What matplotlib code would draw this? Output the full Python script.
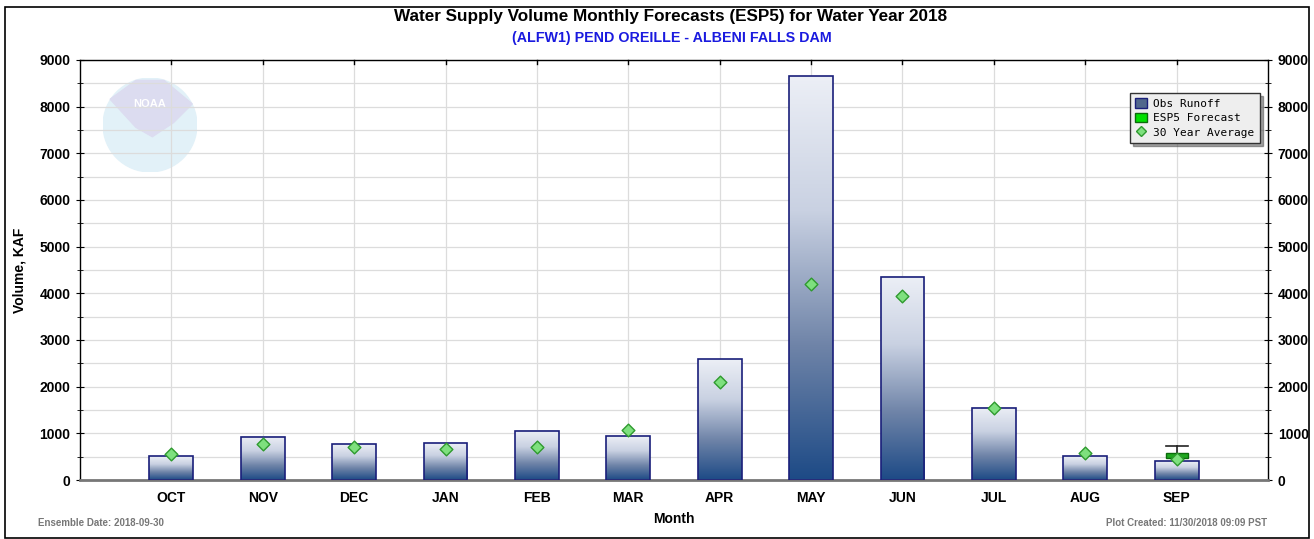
import numpy as np
import matplotlib.pyplot as plt
from matplotlib.colors import LinearSegmentedColormap
from matplotlib.patches import Patch, Rectangle, Circle, Polygon
from matplotlib.lines import Line2D

plt.rcParams["font.family"] = ["Liberation Sans", "DejaVu Sans"]

# data (KAF)
months = ["OCT", "NOV", "DEC", "JAN", "FEB", "MAR",
          "APR", "MAY", "JUN", "JUL", "AUG", "SEP"]
obs_runoff = [510, 930, 770, 790, 1050, 940, 2590, 8650, 4360, 1550, 510, 400]
avg_30yr = [560, 770, 700, 670, 700, 1070, 2100, 4200, 3940, 1550, 580, 450]

# ESP5 forecast for the last month (box + whisker)
esp_month = "SEP"
esp_low = 480
esp_high = 580
esp_whisker_top = 720

title = "Water Supply Volume Monthly Forecasts (ESP5) for Water Year 2018"
subtitle = "(ALFW1) PEND OREILLE - ALBENI FALLS DAM"


def draw_logo(fig):
    """Faint NOAA style logo in the upper left corner."""
    lax = fig.add_axes([150 / 1314 - 0.036, 1 - 125 / 539 - 0.087, 0.072, 0.174])
    lax.set_xlim(-1, 1)
    lax.set_ylim(-1, 1)
    lax.set_aspect("equal")
    lax.axis("off")
    lax.add_patch(Circle((0, 0), 1, color="#e2f1f8", zorder=1))
    lax.add_patch(Polygon([[-0.85, 0.55], [-0.3, 0.95], [0.3, 0.95], [0.9, 0.45],
                           [0.5, 0.05], [0.05, -0.25], [-0.3, -0.05]],
                          closed=True, color="#dcdcf0", zorder=2))
    lax.text(0, 0.45, "NOAA", ha="center", va="center", color="white",
             fontsize=8, fontweight="bold", zorder=3)


def main():
    fig = plt.figure(figsize=(13.14, 5.39), dpi=100)
    fig.patch.set_facecolor("white")

    # outer frame
    fig.add_artist(Rectangle((5 / 1314, 0.002), 1 - 10 / 1314, 1 - 8 / 539,
                             transform=fig.transFigure, fill=False,
                             edgecolor="black", linewidth=1.2))

    draw_logo(fig)

    ax = fig.add_axes([80 / 1314, 1 - 480 / 539, (1268 - 80) / 1314, 420 / 539])
    ax.patch.set_alpha(0)
    x = np.arange(len(months))
    width = 0.48

    # gradient fill for the bars
    cmap = LinearSegmentedColormap.from_list(
        "bar", ["#1d4a86", "#6f84a8", "#c9d1e2", "#eceff6"])
    grad = np.linspace(0, 1, 256).reshape(-1, 1)
    for xi, h in zip(x, obs_runoff):
        ax.imshow(grad, cmap=cmap, origin="lower", aspect="auto",
                  extent=[xi - width / 2, xi + width / 2, 0, h], zorder=2)
    ax.bar(x, obs_runoff, width=width, facecolor="none",
           edgecolor="#1a1f7a", linewidth=1.2, zorder=3)

    # ESP5 forecast box
    ei = months.index(esp_month)
    ax.plot([ei - 0.12, ei + 0.12], [esp_whisker_top] * 2, color="#222222",
            linewidth=1.2, zorder=4)
    ax.plot([ei, ei], [esp_high, esp_whisker_top], color="#222222",
            linewidth=1.2, zorder=4)
    ax.add_patch(Rectangle((ei - 0.12, esp_low), 0.24, esp_high - esp_low,
                           facecolor="#1ea81e", edgecolor="#0b6b0b",
                           linewidth=1, zorder=4))

    # 30 year average markers
    ax.scatter(x, avg_30yr, marker="D", s=42, color="#7ee07e",
               edgecolor="#2e9a2e", linewidth=1, zorder=5)

    ax.set_xlim(-1, 12)
    ax.set_ylim(0, 9000)
    ax.set_xticks(x)
    ax.set_xticklabels(months, fontweight="bold", fontsize=10)
    ax.set_yticks(np.arange(0, 9001, 1000))
    ax.set_yticks(np.arange(500, 9000, 1000), minor=True)
    ax.tick_params(axis="y", which="both", labelsize=10, direction="inout",
                   length=6, right=True, labelright=True, pad=4)
    ax.tick_params(axis="y", which="minor", length=4)
    ax.tick_params(axis="x", length=0, pad=8)
    for lab in ax.get_yticklabels():
        lab.set_fontweight("bold")

    ax.grid(True, which="both", color="#dcdcdc", linewidth=0.9, zorder=0)
    ax.set_axisbelow(True)
    # month ticks along the top edge
    for xi in x:
        ax.plot([xi, xi], [9000, 8910], color="black", linewidth=1,
                clip_on=False, zorder=6)

    for side in ["left", "right", "top"]:
        ax.spines[side].set_color("black")
        ax.spines[side].set_linewidth(1)
    ax.spines["bottom"].set_color("#777777")
    ax.spines["bottom"].set_linewidth(2)

    ax.set_ylabel("Volume, KAF", fontweight="bold", fontsize=10, labelpad=9)
    ax.set_xlabel("Month", fontweight="bold", fontsize=10, labelpad=5)

    handles = [
        Patch(facecolor="#51678c", edgecolor="#1a1f7a", label="Obs Runoff"),
        Patch(facecolor="#00e000", edgecolor="#0b6b0b", label="ESP5 Forecast"),
        Line2D([], [], marker="D", linestyle="none", markersize=5,
               markerfacecolor="#7ee07e", markeredgecolor="#2e9a2e",
               label="30 Year Average"),
    ]
    leg = ax.legend(handles=handles, loc="upper right",
                    bbox_to_anchor=(0.998, 0.935), frameon=True, fancybox=False,
                    shadow=True, prop={"family": "DejaVu Sans Mono", "size": 8},
                    handlelength=1.0, handleheight=0.9, handletextpad=0.6,
                    borderpad=0.5, labelspacing=0.35)
    leg.get_frame().set_facecolor("#eeeeee")
    leg.get_frame().set_edgecolor("#333333")
    leg.get_frame().set_alpha(1)

    fig.text(0.51, 1 - 17 / 539, title, ha="center", va="center",
             fontweight="bold", fontsize=12.3)
    fig.text(0.511, 1 - 38 / 539, subtitle, ha="center", va="center",
             fontweight="bold", fontsize=10.3, color="#1a1adf")
    fig.text(38 / 1314, 1 - 523 / 539, "Ensemble Date: 2018-09-30",
             ha="left", va="center", fontsize=7, fontweight="bold",
             color="#777777")
    fig.text(1267 / 1314, 1 - 523 / 539, "Plot Created: 11/30/2018 09:09 PST",
             ha="right", va="center", fontsize=7, fontweight="bold",
             color="#777777")

    fig.savefig("out.png", dpi=100)


if __name__ == "__main__":
    main()
